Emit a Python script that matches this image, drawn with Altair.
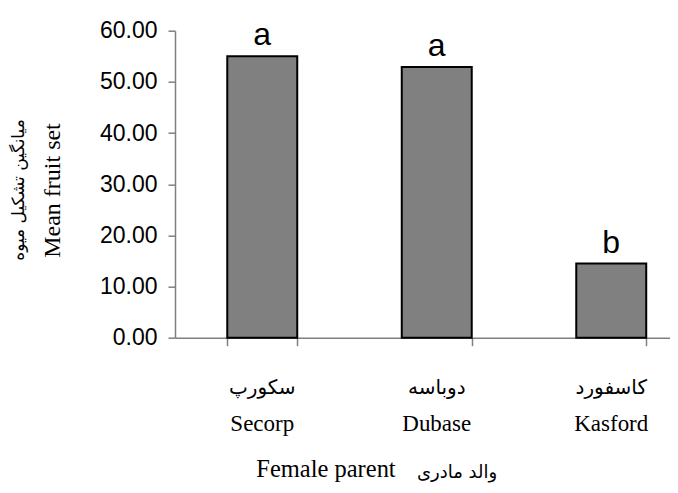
import altair as alt
import pandas as pd

cats_en = ["Secorp", "Dubase", "Kasford"]
cats_fa = ["سکورپ", "دوباسه", "کاسفورد"]
values = [55.0, 52.9, 14.5]
letters = ["a", "a", "b"]
y_ticks = [0, 10, 20, 30, 40, 50, 60]
y_title_en = "Mean fruit set"
y_title_fa = ["میانگین تشکیل میوه"]
x_title_en = "Female parent"
x_title_fa = ["والد مادری"]

df = pd.DataFrame({"en": cats_en, "fa": cats_fa, "value": values, "letter": letters})

xscale = alt.Scale(range=[0, 523.5], paddingInner=0.599, paddingOuter=0.2995)
xaxis = alt.Axis(
    labels=False, tickBand="extent", grid=False,
    domainColor="#808080", domainWidth=1.5,
    tickColor="#808080", tickWidth=1.5, tickSize=8,
    title=x_title_en,
    titleFont="Liberation Serif", titleFontSize=24.5,
    titleFontWeight="normal", titleColor="black",
    titleX=150.5, titleY=139.3, titleAlign="center", titleBaseline="alphabetic",
)
x = alt.X("en:N", sort=cats_en, scale=xscale, axis=xaxis)

yaxis = alt.Axis(
    values=y_ticks, format=".2f", grid=False,
    domainColor="#808080", domainWidth=1.5,
    tickColor="#808080", tickWidth=1.5, tickSize=7,
    labelFont="Liberation Sans", labelFontSize=23, labelColor="black",
    labelPadding=11,
    title=y_title_en,
    titleFont="Liberation Serif", titleFontSize=24,
    titleFontWeight="normal", titleColor="black",
    titleAngle=270, titleX=-123, titleY=159.3,
    titleAlign="center", titleBaseline="middle",
)
y = alt.Y("value:Q", scale=alt.Scale(domain=[0, 60], nice=False), axis=yaxis)

base = alt.Chart(df)

bars = base.mark_bar(fill="#808080", stroke="black", strokeWidth=2).encode(x=x, y=y)

sig = base.mark_text(font="Liberation Sans", fontSize=32, baseline="alphabetic", dy=-11, color="black").encode(
    x=x, y=y, text="letter:N"
)

lab_fa = base.mark_text(font="DejaVu Sans", fontSize=20, baseline="middle", color="black").encode(
    x=x, y=alt.value(357.3), text="fa:N"
)
lab_en = base.mark_text(font="Liberation Serif", fontSize=23, baseline="alphabetic", color="black").encode(
    x=x, y=alt.value(400.3), text="en:N"
)

ytitle_fa = alt.Chart(pd.DataFrame({"t": y_title_fa})).mark_text(
    font="DejaVu Sans", fontSize=17, angle=270, baseline="middle", align="center", color="black"
).encode(text="t:N", x=alt.value(-156), y=alt.value(159.3))

xtitle_fa = alt.Chart(pd.DataFrame({"t": x_title_fa})).mark_text(
    font="DejaVu Sans", fontSize=18, baseline="middle", align="center", color="black"
).encode(text="t:N", x=alt.value(282), y=alt.value(442.3))

chart = alt.layer(bars, sig, lab_fa, lab_en, ytitle_fa, xtitle_fa).properties(
    width=495, height=307,
    padding={"left": 167, "top": 22.7, "right": 0, "bottom": 147},
    autosize="none",
    background="white",
).configure_view(stroke=None)

chart.save("out.html", embed_options={"renderer": "svg", "actions": False})
